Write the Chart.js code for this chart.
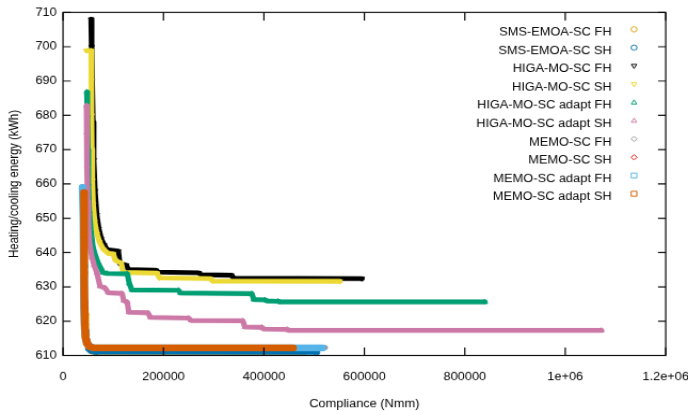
<!DOCTYPE html>
<html><head><meta charset="utf-8">
<script src="https://cdn.jsdelivr.net/npm/chart.js@4/dist/chart.umd.min.js"></script>
<style>html,body{margin:0;padding:0;background:#fff;overflow:hidden}
#c{display:block;width:688px;height:411px}</style>
</head><body>
<canvas id="c" width="645" height="440" style="width:688px;height:411px"></canvas>
<script>
// ---- data (compliance [Nmm], energy [kWh]) ----
const seriesNames = ['SMS-EMOA-SC FH','SMS-EMOA-SC SH','HIGA-MO-SC FH','HIGA-MO-SC SH',
  'HIGA-MO-SC adapt FH','HIGA-MO-SC adapt SH','MEMO-SC FH','MEMO-SC SH','MEMO-SC adapt FH','MEMO-SC adapt SH'];
const seriesColors = ['#E69F00','#0072B2','#000000','#ECD936','#009E73','#CC79A7','#9A9A9A','#E8140C','#56B4E9','#D55E00'];
const seriesStyles = ['circle','circle','triDown','triDown','triUp','triUp','diamond','diamond','square','square'];

const smsFH = [[43000,650],[43500,634],[44500,622],[46500,616],[49500,613],[53000,611.7],[60000,611.1],[70000,610.9],[480000,610.9]];
const smsSH = [[42500,652],[43000,636],[43800,624],[45500,617],[48000,613.5],[51000,612],[56000,611.3],[65000,611],[505000,610.9]];
const higaFH = [[56000,708],[57000,700],[58000,690],[59500,678],[61000,667],[63500,658],[67000,651],[71000,647],[76000,644],[82000,642.2],[88000,640.8],[110000,640.4],[113000,636.8],[126000,636.3],[130000,635],[185000,634.8],[190000,634.3],[270000,634.1],[276000,633.5],[335000,633.4],[340000,632.5],[595000,632.4]];
const higaSH = [[47000,698.9],[56000,698.9],[56500,690],[57000,680],[57500,670],[58500,661],[60000,654],[63000,649],[67500,645.5],[73000,643],[80000,641],[90000,639.8],[100000,639.6],[104000,637.8],[116000,636.9],[120000,634.2],[187000,634],[192000,632.6],[293000,632.4],[298000,631.7],[551000,631.6]];
const higaAdaptFH = [[47500,686.8],[48500,680],[49500,670],[50500,660],[52500,652],[55500,646.5],[59700,641.6],[64000,639.3],[69700,637],[79600,634.2],[88000,633.9],[128000,633.8],[132000,631],[137000,629.1],[230000,629],[234000,628.2],[376000,628],[380000,626.3],[402000,626.2],[406000,625.9],[428000,625.8],[432000,625.6],[840000,625.6]];
const higaAdaptSH = [[46800,682.8],[47300,675],[48000,665],[49000,655],[50500,648],[53000,642.5],[57700,638.6],[62000,636.3],[67700,634],[73600,630.2],[83600,629.7],[90000,628.3],[117400,628.1],[121000,626],[128000,625.5],[131000,622.6],[169000,622.4],[174000,621.1],[250000,620.9],[255000,620.2],[358000,620.1],[362000,618.3],[396000,618.2],[400000,617.7],[446000,617.6],[450000,617.3],[1072000,617.3]];
const memoFH = [[40500,656],[41200,640],[42000,628],[43500,619],[46000,615],[50000,613.3],[58000,612.5],[66000,612.3],[521000,612.3]];
const memoSH = [[41500,654],[42000,638],[42800,626],[44000,619],[47000,614.8],[52000,613],[60000,612.4],[440000,612.3]];
const memoAdaptFH = [[39000,659],[40500,650],[41300,635],[42200,624],[43200,618],[45000,615],[48000,613.4],[54000,612.5],[62000,612.2],[516000,612.2]];
const memoAdaptSH = [[41800,657.5],[42000,645],[42300,632],[42700,624],[43300,619],[44500,615.5],[47000,613.7],[51000,612.8],[57000,612.3],[63000,612.2],[458000,612.2]];

const seriesData = [smsFH, smsSH, higaFH, higaSH, higaAdaptFH, higaAdaptSH, memoFH, memoSH, memoAdaptFH, memoAdaptSH];

const xTickLabels = ['0','200000','400000','600000','800000','1e+06','1.2e+06'];
const xTitle = 'Compliance (Nmm)';
const yTitle = 'Heating/cooling energy (kWh)';

// ---- styling ----
const FONT = {family:"'Liberation Sans', Arial, Helvetica, sans-serif", size:12};
const bandWidths = [5.2,5.2,5.2,5.2,5.2,5.2,5.8,5.8,7.2,7.2];
const cjsStyle = {circle:['circle',0], triDown:['triangle',180], triUp:['triangle',0], diamond:['rectRot',0], square:['rect',0]};

const datasets = seriesData.map((d,i)=>({
  label: seriesNames[i],
  data: d.map(p=>({x:p[0], y:p[1]})),
  showLine: true,
  borderColor: seriesColors[i],
  backgroundColor: 'rgba(0,0,0,0)',
  borderWidth: bandWidths[i],
  borderJoinStyle: 'round',
  borderCapStyle: 'round',
  pointStyle: cjsStyle[seriesStyles[i]][0],
  rotation: cjsStyle[seriesStyles[i]][1],
  pointRadius: seriesStyles[i]==='square' ? 3.5 : 3,
  pointBorderWidth: 1,
  pointBorderColor: seriesColors[i],
  pointBackgroundColor: 'rgba(0,0,0,0)',
  order: 10 - i
}));

function drawSym(ctx, style, x, y, r){
  ctx.beginPath();
  if (style==='circle') ctx.arc(x,y,r,0,Math.PI*2);
  else if (style==='triUp'){ ctx.moveTo(x,y-r); ctx.lineTo(x+0.9*r,y+0.6*r); ctx.lineTo(x-0.9*r,y+0.6*r); ctx.closePath(); }
  else if (style==='triDown'){ ctx.moveTo(x,y+r); ctx.lineTo(x+0.9*r,y-0.6*r); ctx.lineTo(x-0.9*r,y-0.6*r); ctx.closePath(); }
  else if (style==='diamond'){ ctx.moveTo(x,y-r); ctx.lineTo(x+r,y); ctx.lineTo(x,y+r); ctx.lineTo(x-r,y); ctx.closePath(); }
  else { ctx.rect(x-r*0.95,y-r*0.95,r*1.9,r*1.9); }
  ctx.stroke();
}

const framePlugin = {
  id: 'frame',
  afterDatasetsDraw(chart){
    const {ctx, chartArea:a, scales:{x, y}} = chart;
    ctx.save();
    ctx.strokeStyle = '#000';
    ctx.lineWidth = 1.2;
    ctx.beginPath();
    x.ticks.forEach(t=>{
      const px = x.getPixelForValue(t.value);
      ctx.moveTo(px, a.bottom); ctx.lineTo(px, a.bottom-8.6);
      ctx.moveTo(px, a.top); ctx.lineTo(px, a.top+8.6);
    });
    y.ticks.forEach(t=>{
      const py = y.getPixelForValue(t.value);
      ctx.moveTo(a.left, py); ctx.lineTo(a.left+7.2, py);
      ctx.moveTo(a.right, py); ctx.lineTo(a.right-7.2, py);
    });
    ctx.stroke();
    ctx.strokeRect(a.left, a.top, a.right-a.left, a.bottom-a.top);
    // key
    ctx.font = FONT.size + 'px ' + FONT.family;
    ctx.textAlign = 'right';
    ctx.textBaseline = 'alphabetic';
    ctx.fillStyle = '#000';
    seriesNames.forEach((n,i)=>{
      const yy = 31.4 + 19.56*i;
      ctx.fillText(n, 573.3, yy + 6.8);
      ctx.strokeStyle = seriesColors[i];
      ctx.lineWidth = 1;
      drawSym(ctx, seriesStyles[i], 594.4, yy, 2.8);
    });
    ctx.restore();
  }
};

new Chart(document.getElementById('c'), {
  type: 'scatter',
  data: { datasets },
  options: {
    responsive: false,
    devicePixelRatio: 1,
    animation: false,
    events: [],
    layout: { padding: { top: 13.3, right: 20.9, bottom: 0, left: 0 } },
    plugins: { legend: { display: false }, tooltip: { enabled: false } },
    scales: {
      x: {
        type: 'linear', min: 0, max: 1200000,
        grid: { display: false, drawTicks: false },
        border: { display: false },
        ticks: { stepSize: 200000, autoSkip: false, maxRotation: 0, padding: 15.9, color: '#000', font: FONT,
                 callback: (v, i) => xTickLabels[i] },
        title: { display: true, text: xTitle, color: '#000', font: FONT, padding: { top: 0, bottom: 0.3 } },
        afterFit(s){ s.height = 59.5; s.paddingLeft = 0; s.paddingRight = 0; }
      },
      y: {
        type: 'linear', min: 610, max: 710,
        grid: { display: false, drawTicks: false },
        border: { display: false },
        ticks: { stepSize: 10, padding: 5.9, color: '#000', font: FONT },
        title: { display: true, text: yTitle, color: '#000', font: FONT, padding: { top: 6.9, bottom: 0 } },
        afterFit(s){ s.width = 59.06; s.paddingTop = 0; s.paddingBottom = 0; }
      }
    }
  },
  plugins: [framePlugin]
});
</script>
</body></html>
